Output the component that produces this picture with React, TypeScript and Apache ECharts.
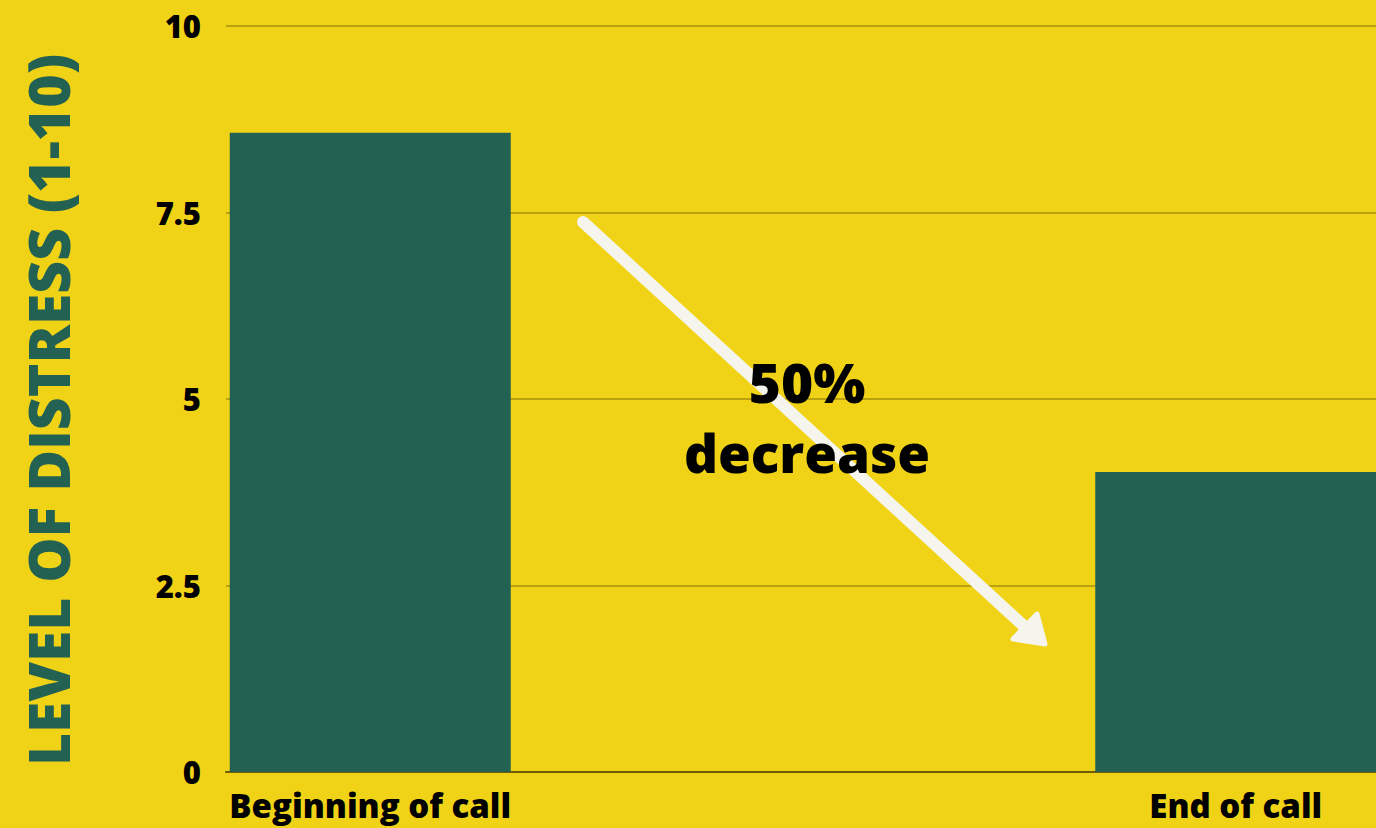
import React, { useEffect, useRef } from "react";
import * as echarts from "echarts";

const categories = ["Beginning of call", "", "", "End of call"];
const distressValues = [8.57, null, null, 4.02];
const yTicks = { min: 0, max: 10, interval: 2.5 };
const axisTitle = "LEVEL OF DISTRESS (1-10)";
const annotationLines = ["50%", "decrease"];

const BG = "#F0D317";
const GREEN = "#236152";
const FONT = "'Open Sans', Lato, sans-serif";

export default function App() {
  const ref = useRef<HTMLDivElement>(null);
  useEffect(() => {
    if (!ref.current) return;
    const chart = echarts.init(ref.current, undefined, { renderer: "svg" });
    chart.setOption({
      animation: false,
      backgroundColor: BG,
      grid: { left: 226, right: 0, top: 26, bottom: 56, containLabel: false },
      xAxis: {
        type: "category",
        data: categories,
        axisLine: { show: true, lineStyle: { color: "#6E5C08", width: 2 } },
        axisTick: { show: false },
        axisLabel: {
          interval: 0,
          margin: 17,
          color: "#000",
          fontFamily: FONT,
          fontWeight: 800,
          fontSize: 33,
        },
        z: 5,
      },
      yAxis: {
        type: "value",
        min: yTicks.min,
        max: yTicks.max,
        interval: yTicks.interval,
        name: axisTitle,
        nameLocation: "middle",
        nameGap: 150,
        nameTextStyle: {
          color: GREEN,
          fontFamily: FONT,
          fontWeight: 800,
          fontSize: 57,
          padding: [0, 22, 0, 0],
        },
        axisLine: { show: false },
        axisTick: { show: false },
        axisLabel: {
          margin: 25,
          color: "#000",
          fontFamily: FONT,
          fontWeight: 800,
          fontSize: 31,
        },
        splitLine: { lineStyle: { color: "#B9A20E", width: 2 } },
      },
      series: [
        {
          type: "bar",
          data: distressValues,
          barWidth: 281,
          itemStyle: { color: GREEN },
          z: 10,
        },
      ],
      graphic: [
        {
          type: "line",
          shape: { x1: 583, y1: 222, x2: 1026, y2: 628 },
          style: { stroke: "#F5F5EE", lineWidth: 12, lineCap: "round" },
          z: 20,
        },
        {
          type: "polygon",
          shape: { points: [[1037, 614], [1013, 639], [1045, 644]] },
          style: { fill: "#F5F5EE", stroke: "#F5F5EE", lineWidth: 5, lineJoin: "round" },
          z: 20,
        },
        {
          type: "text",
          x: 807,
          y: 381,
          style: {
            text: annotationLines[0],
            fill: "#000",
            font: `800 55px ${FONT}`,
            textAlign: "center",
            textVerticalAlign: "middle",
          },
          z: 30,
        },
        {
          type: "text",
          x: 807,
          y: 452,
          style: {
            text: annotationLines[1],
            fill: "#000",
            font: `800 53px ${FONT}`,
            textAlign: "center",
            textVerticalAlign: "middle",
          },
          z: 30,
        },
      ],
    });
    return () => chart.dispose();
  }, []);
  return (
    <div style={{ position: "fixed", left: 0, top: 0, width: 1376, height: 828, overflow: "hidden" }}>
      <div ref={ref} style={{ width: 1380, height: 828 }} />
    </div>
  );
}
